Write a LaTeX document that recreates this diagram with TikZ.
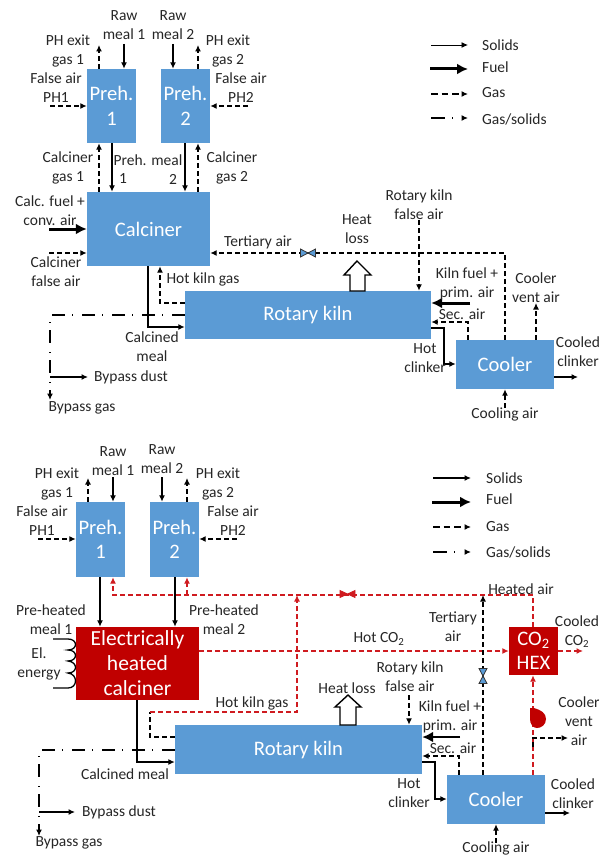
\documentclass[tikz,border=0pt]{standalone}
\usepackage{fontspec}
\setmainfont{Carlito}
\usetikzlibrary{arrows.meta}
\definecolor{boxblue}{HTML}{5B9BD5}
\definecolor{boxred}{HTML}{C00000}
\definecolor{linered}{HTML}{CF1B20}
\definecolor{txt}{HTML}{262626}
\tikzset{
  lab/.style={inner sep=0pt,align=center,text=txt,font=\fontsize{15.5}{19}\selectfont},
  labl/.style={lab,anchor=west},
  bx/.style={draw=none,fill=boxblue,inner sep=0pt,align=center,text=white,font=\fontsize{20.6}{24.5}\selectfont},
  rbx/.style={bx,fill=boxred},
  tip/.style={-{Latex[length=6.5pt,width=6pt]}},
  solidflow/.style={tip,line width=1.3pt,black},
  fuelflow/.style={-{Latex[length=11pt,width=11pt]},line width=3pt,black},
  gasflow/.style={tip,line width=1.4pt,black,dash pattern=on 5pt off 3pt},
  redflow/.style={gasflow,linered},
  gasline/.style={line width=1.4pt,black,dash pattern=on 5pt off 3pt},
  mixflow/.style={tip,line width=1.3pt,black,dash pattern=on 13pt off 9pt on 1pt off 7pt},
  blockarrow/.style={draw=black,fill=white,line width=1.4pt,line join=miter},
  valveblue/.style={draw=black!80,fill=boxblue,line width=0.8pt},
  valvered/.style={draw=linered,fill=linered,line width=0.8pt},
}
\begin{document}
\begin{tikzpicture}[x=1pt,y=-1pt]
\useasboundingbox (0,0) rectangle (602,856);
% ---------- upper plant: boxes
\node[bx,minimum width=49pt,minimum height=74pt] (p1) at (111.5,106) {Preh.\\1};
\node[bx,minimum width=49pt,minimum height=74pt] (p2) at (185.5,106) {Preh.\\2};
\node[bx,minimum width=123pt,minimum height=74pt] (calc) at (148.5,229) {Calciner};
\node[bx,minimum width=246pt,minimum height=48pt] (kiln) at (308,315) {Rotary kiln};
\node[bx,minimum width=98pt,minimum height=49pt] (cool) at (505,364.5) {Cooler};
% free ends
\coordinate (a1) at (99,45);
\coordinate (a2) at (124,44);
\coordinate (a3) at (173,44);
\coordinate (a4) at (198,45);
\coordinate (a5) at (50,106);
\coordinate (a6) at (248,106);
\coordinate (a7) at (99,0);
\coordinate (a8) at (112,0);
\coordinate (a9) at (185,0);
\coordinate (a10) at (198,0);
\coordinate (a11) at (49,229);
\coordinate (a12) at (49,253);
\coordinate (tc) at (505,253);
\coordinate (hk1) at (160,303);
\coordinate (cm1) at (148,327);
\coordinate (by1) at (50,315);
\coordinate (by2) at (50,400);
\coordinate (by3) at (50,377);
\coordinate (by4) at (88,377);
\coordinate (fa) at (419,220);
\coordinate (kf) at (470,303);
\coordinate (sa1) at (468,322);
\coordinate (hc1) at (444,328);
\coordinate (hc2) at (444,364);
\coordinate (cv) at (536,303);
\coordinate (cc) at (578,377);
\coordinate (ca) at (505,408);
% connectors
\draw[gasflow] (a1 |- p1.north) -- (a1);
\draw[solidflow] (a2) -- (a2 |- p1.north);
\draw[solidflow] (a3) -- (a3 |- p2.north);
\draw[gasflow] (a4 |- p2.north) -- (a4);
\draw[gasflow] (a5) -- (a5 -| p1.west);
\draw[gasflow] (a6) -- (a6 -| p2.east);
\draw[gasflow] (a7 |- calc.north) -- (a7 |- p1.south);
\draw[solidflow] (a8 |- p1.south) -- (a8 |- calc.north);
\draw[solidflow] (a9 |- p2.south) -- (a9 |- calc.north);
\draw[gasflow] (a10 |- calc.north) -- (a10 |- p2.south);
\draw[fuelflow] (a11) -- (a11 -| calc.west);
\draw[gasflow] (a12) -- (a12 -| calc.west);
\draw[gasflow] (tc |- cool.north) -- (tc) -- (tc -| calc.east);
\draw[gasflow] (hk1 -| kiln.west) -- (hk1) -- (hk1 |- calc.south);
\draw[solidflow] (cm1 |- calc.south) -- (cm1) -- (cm1 -| kiln.west);
\draw[mixflow] (by1 -| kiln.west) -- (by1) -- (by2);
\draw[solidflow] (by3) -- (by4);
\draw[gasflow] (fa) -- (fa |- kiln.north);
\draw[fuelflow] (kf) -- (kf -| kiln.east);
\draw[gasflow] (sa1 |- cool.north) -- (sa1) -- (sa1 -| kiln.east);
\draw[solidflow] (hc1 -| kiln.east) -- (hc1) -- (hc2) -- (hc2 -| cool.west);
\draw[gasflow] (cv |- cool.north) -- (cv);
\draw[solidflow] (cc -| cool.east) -- (cc);
\draw[gasflow] (ca) -- (ca |- cool.south);
\draw[valveblue] (300.5,249) -- (315.5,257) -- (315.5,249) -- (300.5,257) -- cycle;
\draw[blockarrow] (350,291) -- (350,275) -- (344,275) -- (357,261) -- (371,275) -- (365,275) -- (365,291) -- cycle;
% labels
\node[lab] (t1) at (124,25.5) {Raw\\meal 1};
\node[lab] (t2) at (173,25.5) {Raw\\meal 2};
\node[lab] (t3) at (68,51) {PH exit\\gas 1};
\node[lab] (t4) at (228,51) {PH exit\\gas 2};
\node[lab] (t5) at (56,88) {False air\\PH1};
\node[lab] (t6) at (241,88) {False air\\PH2};
\node[lab] (t7) at (68,167.5) {Calciner\\gas 1};
\node[lab] (t8) at (232,167.5) {Calciner\\gas 2};
\node[lab] (t9) at (148,160) {Preh. meal};
\node[lab] (t9a) at (123,179) {1};
\node[lab] (t9b) at (173,179) {2};
\node[lab] (t10) at (50,210.5) {Calc. fuel +\\conv. air};
\node[lab] (t11) at (56,271.5) {Calciner\\false air};
\node[lab] (t12) at (203,279) {Hot kiln gas};
\node[lab] (t13) at (258,242) {Tertiary air};
\node[lab] (t14) at (152,346.5) {Calcined\\meal};
\node[lab] (t15) at (131,377) {Bypass dust};
\node[lab] (t16) at (82,408) {Bypass gas};
\node[lab] (t17) at (357,229.5) {Heat\\loss};
\node[lab] (t18) at (419,204.5) {Rotary kiln\\false air};
\node[lab] (t19) at (467,283.5) {Kiln fuel +\\prim. air};
\node[lab] (t20) at (462,314) {Sec. air};
\node[lab] (t21) at (425,358.5) {Hot\\clinker};
\node[lab] (t22) at (536,288) {Cooler\\vent air};
\node[lab] (t23) at (578,352) {Cooled\\clinker};
\node[lab] (t24) at (505,414) {Cooling air};
% legend upper
\coordinate (l1a) at (431,45); \coordinate (l1b) at (468,45);
\coordinate (l2a) at (430,69); \coordinate (l2b) at (468,69);
\coordinate (l3a) at (431,94); \coordinate (l3b) at (468,94);
\coordinate (l4a) at (431,118); \coordinate (l4b) at (468,118);
\draw[solidflow,line width=0.9pt] (l1a) -- (l1b);
\draw[fuelflow] (l2a) -- (l2b);
\draw[gasflow,dash pattern=on 6.5pt off 4pt] (l3a) -- (l3b);
\draw[mixflow,dash pattern=on 14pt off 7pt on 1pt off 20pt] (l4a) -- (l4b);
\node[labl] (lg1) at (482,45) {Solids};
\node[labl] (lg2) at (482,67) {Fuel};
\node[labl] (lg3) at (482,93) {Gas};
\node[labl] (lg4) at (482,119) {Gas/solids};
% ---------- lower plant: boxes
\node[bx,minimum width=49pt,minimum height=75pt] (q1) at (100.5,539.5) {Preh.\\1};
\node[bx,minimum width=49pt,minimum height=75pt] (q2) at (174.5,539.5) {Preh.\\2};
\node[rbx,minimum width=123pt,minimum height=73pt,font=\fontsize{21.5}{25}\selectfont] (ecalc) at (137.5,663.5) {Electrically\\heated\\calciner};
\node[bx,minimum width=247pt,minimum height=49pt] (rk) at (298.5,749.5) {Rotary kiln};
\node[bx,minimum width=98pt,minimum height=49pt] (cl) at (496,799.5) {Cooler};
\node[rbx,minimum width=49pt,minimum height=48pt] (hex) at (533.5,651) {CO\textsubscript{2}\\HEX};
% free ends
\coordinate (b1) at (88,478);
\coordinate (b2) at (113,477);
\coordinate (b3) at (162,477);
\coordinate (b4) at (187,478);
\coordinate (b5) at (38,539);
\coordinate (b6) at (237,539);
\coordinate (b7) at (100,0);
\coordinate (b8) at (175,0);
\coordinate (h1) at (533,595);
\coordinate (h2) at (113,595);
\coordinate (h3) at (187,595);
\coordinate (k1) at (150,737);
\coordinate (k2) at (150,712);
\coordinate (k3) at (297,712);
\coordinate (k4) at (297,595);
\coordinate (ta) at (483,595);
\coordinate (sb) at (459,756);
\coordinate (hd1) at (435,762);
\coordinate (hd2) at (435,799);
\coordinate (kb) at (460,737);
\coordinate (fb) at (409,695);
\coordinate (co) at (533,0);
\coordinate (vt1) at (533,747);
\coordinate (vt2) at (533,738);
\coordinate (vt3) at (568,738);
\coordinate (cd) at (570,813);
\coordinate (cb) at (496,843);
\coordinate (cn) at (137,762);
\coordinate (bg1) at (39,750);
\coordinate (bg2) at (39,836);
\coordinate (bd1) at (39,812);
\coordinate (bd2) at (75,812);
\coordinate (cq) at (583,651);
% connectors
\draw[gasflow] (b1 |- q1.north) -- (b1);
\draw[solidflow] (b2) -- (b2 |- q1.north);
\draw[solidflow] (b3) -- (b3 |- q2.north);
\draw[gasflow] (b4 |- q2.north) -- (b4);
\draw[gasflow] (b5) -- (b5 -| q1.west);
\draw[gasflow] (b6) -- (b6 -| q2.east);
\draw[solidflow] (b7 |- q1.south) -- (b7 |- ecalc.north);
\draw[solidflow] (b8 |- q2.south) -- (b8 |- ecalc.north);
\draw[redflow] (h1 |- hex.north) -- (h1) -- (h2) -- (h2 |- q1.south);
\draw[redflow] (h3) -- (h3 |- q2.south);
\draw[gasline] (k1 -| rk.west) -- (k1) -- (k2);
\draw[redflow] (k2) -- (k3) -- (k4);
\draw[redflow] (hex.west -| ecalc.east) -- (hex.west);
\draw[redflow] (hex.east) -- (cq);
\draw[gasflow] (ta |- cl.north) -- (ta);
\draw[gasflow] (sb |- cl.north) -- (sb) -- (sb -| rk.east);
\draw[solidflow] (hd1 -| rk.east) -- (hd1) -- (hd2) -- (hd2 -| cl.west);
\draw[fuelflow,line width=2.4pt] (kb) -- (kb -| rk.east);
\draw[gasflow] (fb) -- (fb |- rk.north);
\draw[redflow] (co |- cl.north) -- (co |- hex.south);
\draw[gasflow] (vt1) -- (vt2) -- (vt3);
\draw[solidflow] (cd -| cl.east) -- (cd);
\draw[gasflow] (cb) -- (cb |- cl.south);
\draw[solidflow] (cn |- ecalc.south) -- (cn) -- (cn -| rk.west);
\draw[mixflow] (bg1 -| rk.west) -- (bg1) -- (bg2);
\draw[solidflow] (bd1) -- (bd2);
% coil
\draw[line width=1.3pt,black] (53,688) -- (68,688) .. controls (78,688) and (78,674) .. (68,673)
  .. controls (78,673) and (78,662) .. (68,661) .. controls (78,661) and (78,650) .. (68,650)
  .. controls (78,650) and (78,639) .. (68,639) -- (53,639);
% valves, fan and heat loss
\draw[valvered] (340,590.5) -- (355,597.5) -- (355,590.5) -- (340,597.5) -- cycle;
\draw[valveblue] (479,668.5) -- (487,683.5) -- (479,683.5) -- (487,668.5) -- cycle;
\fill[boxred] (530,708) -- (534,708) .. controls (541,710) and (546,713) .. (546,719) .. controls (546,725) and (541,728) .. (537,728) .. controls (533,728) and (530,724) .. (530,719) -- cycle;
\draw[blockarrow] (340,725) -- (340,707) -- (335,707) -- (348,695) -- (361,707) -- (356,707) -- (356,725) -- cycle;
% labels
\node[lab] (u1) at (113,461.5) {Raw\\meal 1};
\node[lab] (u2) at (162,459.5) {Raw\\meal 2};
\node[lab] (u3) at (57,483.5) {PH exit\\gas 1};
\node[lab] (u4) at (218,483.5) {PH exit\\gas 2};
\node[lab] (u5) at (42,521) {False air\\PH1};
\node[lab] (u6) at (233,521) {False air\\PH2};
\node[lab] (u7) at (51,619.5) {Pre-heated\\meal 1};
\node[lab] (u8) at (224,619.5) {Pre-heated\\meal 2};
\node[lab] (u9) at (39,663.5) {El.\\energy};
\node[lab] (u10) at (252,703) {Hot kiln gas};
\node[lab] (u11) at (125,774) {Calcined meal};
\node[lab] (u12) at (119,812) {Bypass dust};
\node[lab] (u13) at (69,843) {Bypass gas};
\node[lab] (u14) at (347,688) {Heat loss};
\node[lab] (u15) at (410,676.5) {Rotary kiln\\false air};
\node[lab] (u16) at (379,639) {Hot CO\textsubscript{2}};
\node[lab] (u17) at (453,626.5) {Tertiary\\air};
\node[lab] (u18) at (521,589) {Heated air};
\node[lab] (u19) at (577,631.5) {Cooled\\CO\textsubscript{2}};
\node[lab] (u20) at (579,721.5) {Cooler\\vent\\air};
\node[lab] (u21) at (450,716.5) {Kiln fuel +\\prim. air};
\node[lab] (u22) at (453,748) {Sec. air};
\node[lab] (u23) at (409,793.5) {Hot\\clinker};
\node[lab] (u24) at (573,793.5) {Cooled\\clinker};
\node[lab] (u25) at (496,848) {Cooling air};
% legend lower
\coordinate (m1a) at (433,478); \coordinate (m1b) at (471,478);
\coordinate (m2a) at (432,502); \coordinate (m2b) at (471,502);
\coordinate (m3a) at (433,527); \coordinate (m3b) at (471,527);
\coordinate (m4a) at (433,552); \coordinate (m4b) at (471,552);
\draw[solidflow] (m1a) -- (m1b);
\draw[fuelflow] (m2a) -- (m2b);
\draw[gasflow,dash pattern=on 6.5pt off 4pt] (m3a) -- (m3b);
\draw[mixflow,dash pattern=on 14pt off 7pt on 1pt off 20pt] (m4a) -- (m4b);
\node[labl] (mg1) at (486,478) {Solids};
\node[labl] (mg2) at (486,499) {Fuel};
\node[labl] (mg3) at (486,527) {Gas};
\node[labl] (mg4) at (486,552) {Gas/solids};
\end{tikzpicture}
\end{document}
